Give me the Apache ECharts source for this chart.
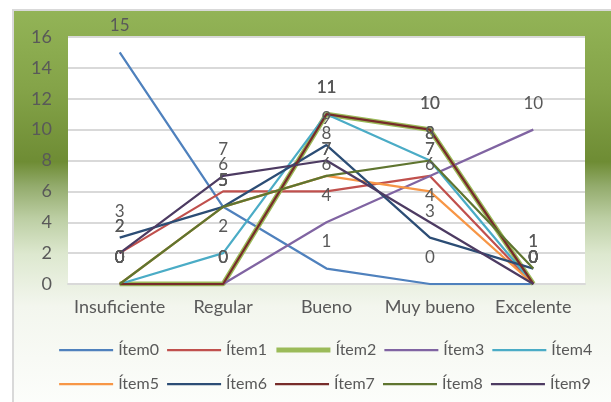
<!DOCTYPE html>
<html>
<head>
<meta charset="utf-8">
<script src="https://cdn.jsdelivr.net/npm/echarts@6/dist/echarts.min.js"></script>
<style>
  html, body { margin: 0; padding: 0; background: #fff; }
  #chart { width: 611px; height: 402px; }
</style>
</head>
<body>
<div id="chart"></div>
<script>
var categories = ["Insuficiente", "Regular", "Bueno", "Muy bueno", "Excelente"];
var seriesNames = ["Ítem0", "Ítem1", "Ítem2", "Ítem3", "Ítem4", "Ítem5", "Ítem6", "Ítem7", "Ítem8", "Ítem9"];

var item0 = [15, 5, 1, 0, 0];
var item1 = [2, 6, 6, 7, 0];
var item2 = [0, 0, 11, 10, 0];
var item3 = [0, 0, 4, 7, 10];
var item4 = [0, 2, 11, 8, 0];
var item5 = [0, 5, 7, 6, 0];
var item6 = [3, 5, 9, 3, 1];
var item7 = [0, 0, 11, 10, 0];
var item8 = [0, 5, 7, 8, 1];
var item9 = [2, 7, 8, 4, 0];

var allData = [item0, item1, item2, item3, item4, item5, item6, item7, item8, item9];
var colors = ["#4F81BD", "#C0504D", "#9BBB59", "#8064A2", "#4BACC6",
              "#F79646", "#2C4D75", "#772C2A", "#5F7530", "#4D3B62"];

var font = "Lato, sans-serif";
var textColor = "#595959";

var chart = echarts.init(document.getElementById("chart"));

// Ítem2 is drawn with a thicker line
function lineWidth(i) {
  return i === 2 ? 5 : 2.25;
}

var series = seriesNames.map(function (name, i) {
  return {
    name: name,
    type: "line",
    data: allData[i],
    symbol: "circle",
    symbolSize: 0.1,
    showSymbol: true,
    color: colors[i],
    lineStyle: { color: colors[i], width: lineWidth(i) },
    label: {
      show: true,
      position: "top",
      distance: 18,
      color: textColor,
      fontSize: 17,
      fontFamily: font
    },
    animation: false
  };
});

function legendFor(from, to, top) {
  var items = [];
  for (var i = from; i < to; i++) {
    items.push({ name: seriesNames[i], lineStyle: { width: lineWidth(i) } });
  }
  return {
    data: items,
    left: 53,
    top: top,
    itemWidth: 54,
    itemHeight: 12,
    itemGap: 7,
    itemStyle: { opacity: 0 },
    textStyle: { color: textColor, fontSize: 16, fontFamily: font },
    selectedMode: false
  };
}

chart.setOption({
  backgroundColor: "#fff",
  graphic: [
    {
      type: "rect",
      z: -10,
      shape: { x: 13, y: 10, width: 620, height: 400 },
      style: {
        stroke: "#d9d9d9",
        lineWidth: 2,
        fill: new echarts.graphic.LinearGradient(0, 0, 0, 1, [
          { offset: 0, color: "#93b457" },
          { offset: 0.2, color: "#84a348" },
          { offset: 0.38, color: "#6e8c34" },
          { offset: 0.44, color: "#93ab6c" },
          { offset: 0.52, color: "#bccea3" },
          { offset: 0.61, color: "#dde8cf" },
          { offset: 0.74, color: "#f3f6ee" },
          { offset: 1, color: "#fdfefc" }
        ])
      }
    }
  ],
  grid: {
    left: 68,
    right: 26,
    top: 37,
    bottom: 118,
    show: true,
    backgroundColor: "#fff",
    borderWidth: 0
  },
  legend: [
    legendFor(0, 5, 337),
    legendFor(5, 10, 371)
  ],
  xAxis: {
    type: "category",
    data: categories,
    boundaryGap: true,
    axisLine: { show: true, lineStyle: { color: "#d9d9d9", width: 2 } },
    axisTick: { show: false },
    axisLabel: { color: textColor, fontSize: 18, fontFamily: font, margin: 14, interval: 0 }
  },
  yAxis: {
    type: "value",
    min: 0,
    max: 16,
    interval: 2,
    axisLine: { show: false },
    axisTick: { show: false },
    axisLabel: { color: textColor, fontSize: 18, fontFamily: font, margin: 16 },
    splitLine: { lineStyle: { color: "#d9d9d9", width: 2 } }
  },
  series: series
});
</script>
</body>
</html>
